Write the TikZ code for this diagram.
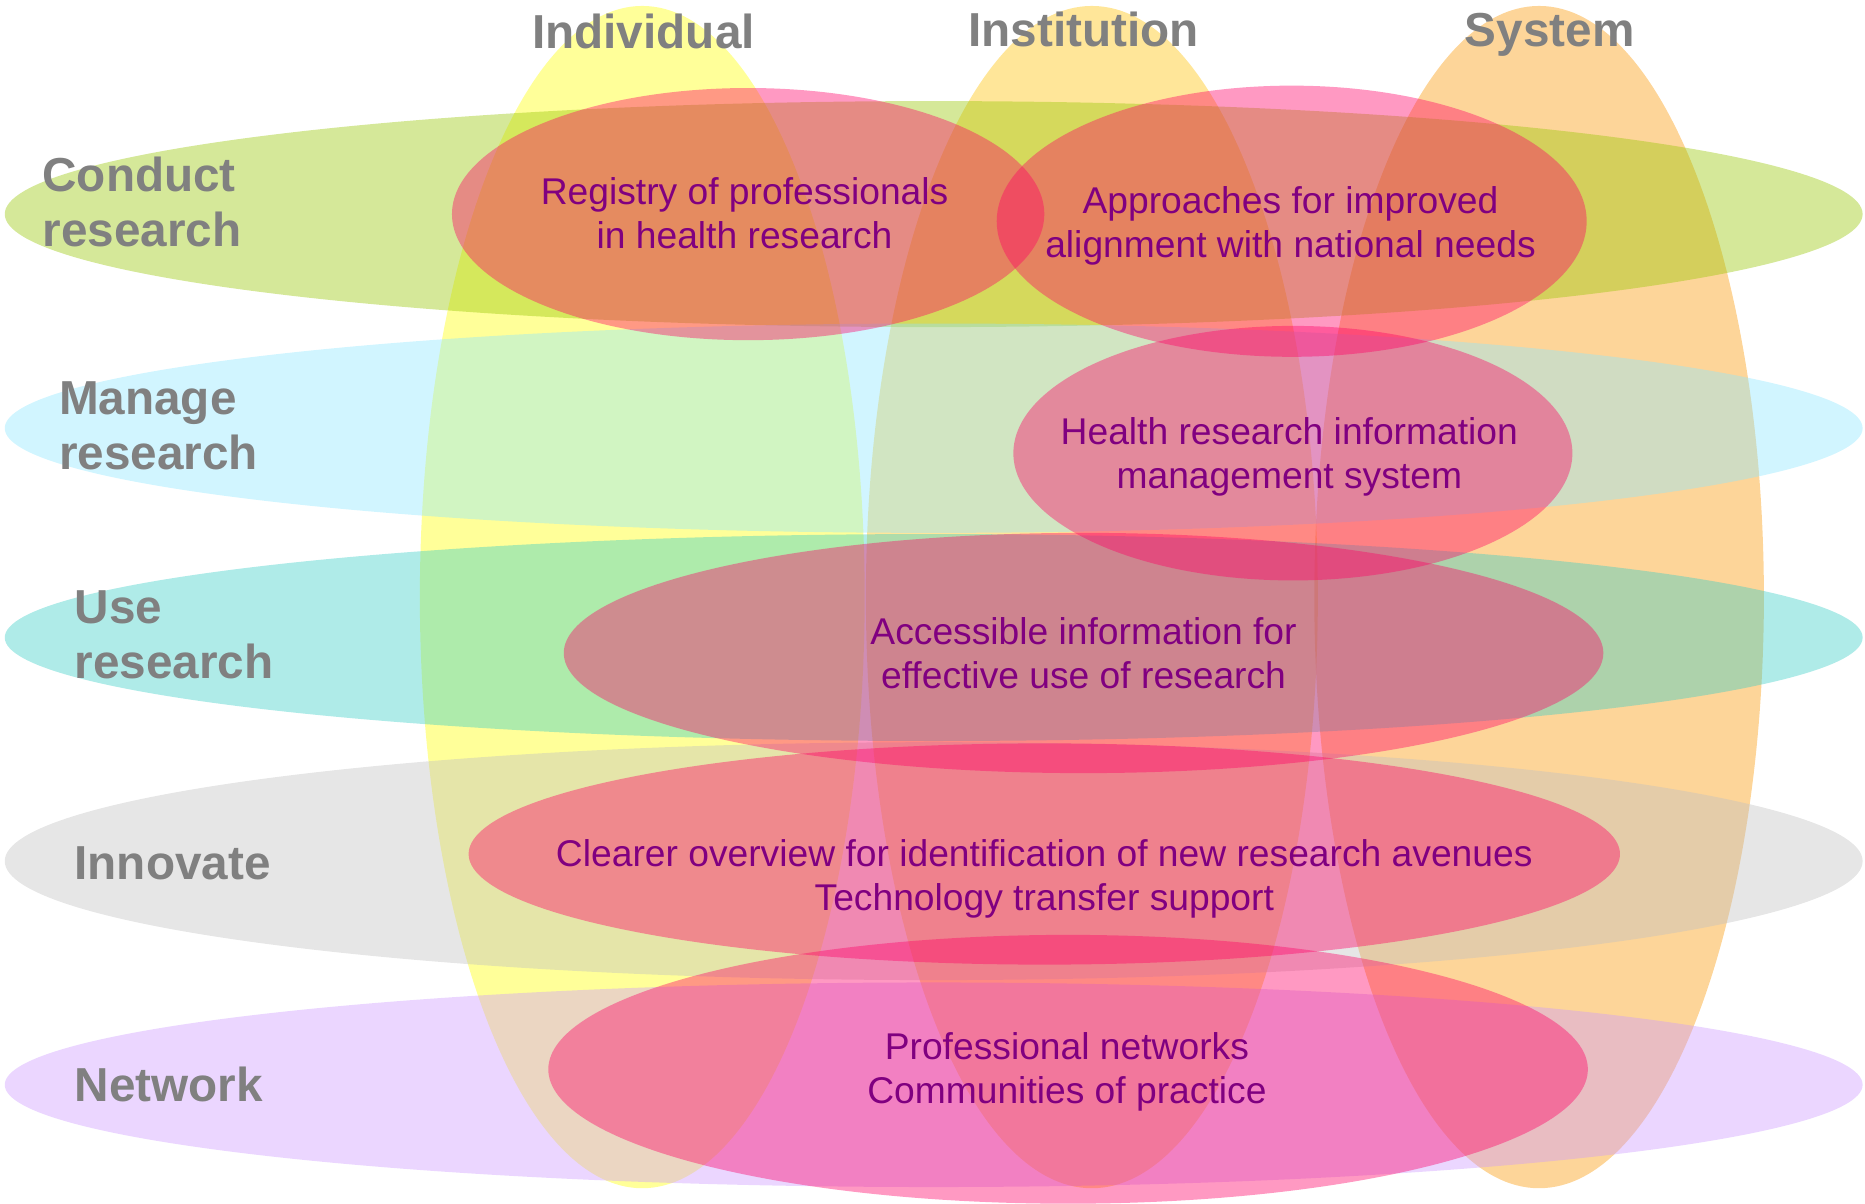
\documentclass[tikz,border=0pt]{standalone}
\usepackage{fontspec}
\setmainfont{Liberation Sans}
\definecolor{indiv}{RGB}{255,255,0}
\definecolor{instit}{RGB}{255,192,0}
\definecolor{syst}{RGB}{250,150,0}
\definecolor{conduct}{RGB}{150,198,0}
\definecolor{manage}{RGB}{140,230,255}
\definecolor{useres}{RGB}{55,205,198}
\definecolor{innov}{RGB}{192,192,192}
\definecolor{netw}{RGB}{204,153,255}
\definecolor{outcome}{RGB}{255,0,102}
\definecolor{labelgray}{RGB}{128,128,128}
\definecolor{notepurple}{RGB}{128,0,128}
\tikzset{
  blob/.style={fill=#1, fill opacity=0.4},
  collabel/.style={text=labelgray, inner sep=0pt, font=\fontsize{11.4}{13.1}\selectfont\bfseries},
  rowlabel/.style={collabel, anchor=west, align=left},
  note/.style={text=notepurple, inner sep=0pt, align=center, font=\fontsize{8.9}{10.5}\selectfont}
}

\begin{document}
\begin{tikzpicture}[x=0.01cm, y=-0.01cm]
\useasboundingbox (0,0) rectangle (1568,1012);

% First the three columns
\fill[blob=indiv]  (540,502)  ellipse [x radius=187, y radius=497];
\fill[blob=instit] (918,502)  ellipse [x radius=190, y radius=497];
\fill[blob=syst]   (1294,502) ellipse [x radius=189, y radius=497];

% Now the five rows
\fill[blob=conduct] (785,180) ellipse [x radius=781, y radius=95];
\fill[blob=manage]  (785,360) ellipse [x radius=781, y radius=88];
\fill[blob=useres]  (785,536) ellipse [x radius=781, y radius=87];
\fill[blob=innov]   (785,724) ellipse [x radius=781, y radius=100];
\fill[blob=netw]    (785,912) ellipse [x radius=781, y radius=86];

% Now the outcomes on top
\fill[blob=outcome] (629,180)  ellipse [x radius=249, y radius=106];
\fill[blob=outcome] (1086,186) ellipse [x radius=248, y radius=114];
\fill[blob=outcome] (1087,381) ellipse [x radius=235, y radius=107];
\fill[blob=outcome] (911,549)  ellipse [x radius=437, y radius=101];
\fill[blob=outcome] (878,718)  ellipse [x radius=484, y radius=93];
\fill[blob=outcome] (898,899)  ellipse [x radius=437, y radius=113];

% column and row labels
\node[collabel, anchor=base] (individual)  at (541,41)  {Individual};
\node[collabel, anchor=base] (institution) at (911,39)  {Institution};
\node[collabel, anchor=base] (system)      at (1303,39) {System};

\node[rowlabel] (conductlbl)  at (35,170) {Conduct\\research};
\node[rowlabel] (managelbl)   at (49,358) {Manage\\research};
\node[rowlabel] (uselbl)      at (62,534) {Use\\research};
\node[rowlabel] (innovatelbl) at (62,726) {Innovate};
\node[rowlabel] (networklbl)  at (62,912) {Network};

% the outcome texts
\node[note] (registry)   at (626,179)  {Registry of professionals\\in health research};
\node[note] (approaches) at (1085,190) {Approaches for improved\\alignment with national needs};
\node[note] (hrims)      at (1084,384) {Health research information\\management system};
\node[note] (access)     at (911,549)  {Accessible information for\\effective use of research};
\node[note] (overview)   at (878,739)  {Clearer overview for identification of new research avenues\\Technology transfer support};
\node[note] (networks)   at (897,901)  {Professional networks\\Communities of practice};
\end{tikzpicture}
\end{document}
